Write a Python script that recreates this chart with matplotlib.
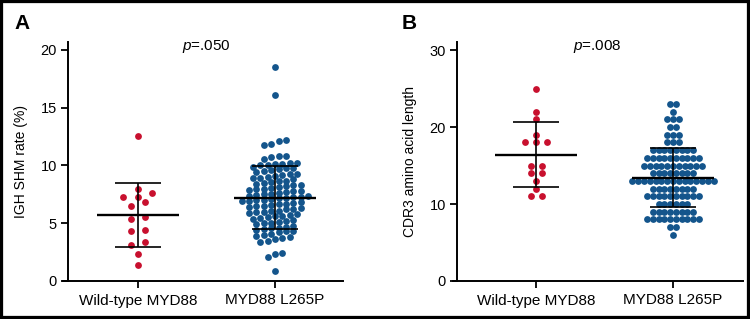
import numpy as np
import matplotlib
matplotlib.use('Agg')
import matplotlib.pyplot as plt
from matplotlib.patches import Rectangle

plt.rcParams['font.family'] = ['Liberation Sans', 'DejaVu Sans']
plt.rcParams['mathtext.fontset'] = 'custom'
plt.rcParams['mathtext.it'] = 'Liberation Sans:italic'
plt.rcParams['mathtext.rm'] = 'Liberation Sans'

groups = ['Wild-type MYD88', 'MYD88 L265P']

# panel A - IGH SHM rate (%)
shm_wt = [12.55, 8.0, 7.6, 7.3, 7.25, 6.8, 6.45, 5.55, 5.35, 4.4, 4.35,
          3.35, 3.1, 2.35, 1.35]
shm_mut = [18.5, 16.1,
           12.2, 12.1, 11.85, 11.8,
           10.8, 10.8, 10.75, 10.6, 10.2, 10.2, 10.15, 10.1, 10.05, 10.0,
           9.9, 9.8, 9.75, 9.7, 9.6, 9.5, 9.4, 9.3, 9.25, 9.2, 9.1, 9.0,
           8.95, 8.9, 8.8, 8.7, 8.65, 8.6, 8.5, 8.4, 8.35, 8.3, 8.2, 8.1, 8.05, 8.0,
           7.95, 7.9, 7.8, 7.75, 7.7, 7.6, 7.55, 7.5, 7.45, 7.4, 7.35, 7.3,
           7.25, 7.2, 7.15, 7.1, 7.05, 7.0,
           6.95, 6.9, 6.8, 6.75, 6.7, 6.65, 6.6, 6.5, 6.45, 6.4, 6.3, 6.25,
           6.2, 6.1, 6.05, 6.0,
           5.95, 5.9, 5.8, 5.7, 5.65, 5.6, 5.5, 5.45, 5.4, 5.3, 5.2, 5.1,
           5.05, 5.0,
           4.9, 4.8, 4.7, 4.6, 4.55, 4.5, 4.4, 4.35, 4.3, 4.2, 4.1, 4.0,
           3.9, 3.8, 3.7, 3.6, 3.5, 3.4,
           2.4, 2.35, 2.1, 0.9]
shm_mean = [5.72, 7.22]
shm_sd = [2.80, 2.75]

# panel B - CDR3 amino acid length
cdr3_wt = [25, 22, 21, 19, 18, 18, 18, 15, 15, 14, 14, 13, 12, 11, 11]
cdr3_len = [6, 7, 8, 9, 10, 11, 12, 13, 14, 15, 16, 17, 18, 19, 20, 21, 22, 23]
cdr3_mut_n = [1, 2, 10, 8, 6, 10, 8, 15, 8, 11, 10, 8, 3, 3, 2, 3, 1, 2]
cdr3_mean = [16.4, 13.43]
cdr3_sd = [4.2, 3.87]

red = '#C8102E'
blue = '#14558C'
PX = 137.0  # pixels per category unit on x


def rows_layout(values, h, step_px):
    # group close values into rows and spread them side by side
    v = np.sort(np.asarray(values, float))
    offs = np.zeros(len(v))
    i = 0
    while i < len(v):
        j = i
        while j < len(v) and v[j] - v[i] < h:
            j += 1
        n = j - i
        offs[i:j] = (np.arange(n) - (n - 1) / 2) * step_px / PX
        i = j
    return v, offs


def draw_panel(ax, data, means, sds, colors, hs, steps, ylim, yticks, ylabel, xlim, spine_off):
    for i, vals in enumerate(data):
        v, o = rows_layout(vals, hs[i], steps[i])
        ax.scatter(i + o, v, s=24, color=colors[i], linewidths=0, zorder=3, clip_on=False)
        m, sd = means[i], sds[i]
        ax.hlines(m, i - 0.30, i + 0.30, color='k', lw=1.7, zorder=4)
        ax.vlines(i, m - sd, m + sd, color='k', lw=1.2, zorder=4)
        ax.hlines([m - sd, m + sd], i - 0.17, i + 0.17, color='k', lw=1.2, zorder=4)
    ax.set_xlim(*xlim)
    ax.set_ylim(*ylim)
    ax.set_yticks(yticks)
    ax.set_xticks([0, 1])
    ax.set_xticklabels(groups, fontsize=11)
    ax.tick_params(axis='y', labelsize=10.5, length=5, width=1.3, pad=3)
    ax.tick_params(axis='x', length=5, width=1.3, pad=4)
    for s in ['top', 'right']:
        ax.spines[s].set_visible(False)
    ax.spines['left'].set_linewidth(1.4)
    ax.spines['bottom'].set_linewidth(1.4)
    ax.spines['left'].set_position(('axes', spine_off))
    ax.set_ylabel(ylabel, fontsize=10, family=['Liberation Sans Narrow', 'Liberation Sans'])
    ax.yaxis.set_label_coords(-0.125, 0.5)


fig = plt.figure(figsize=(7.5, 3.19), dpi=100)
axA = fig.add_axes([63 / 750, 38 / 319, 280 / 750, 239 / 319])
axB = fig.add_axes([453 / 750, 38 / 319, 290 / 750, 239 / 319])

draw_panel(axA, [shm_wt, shm_mut], shm_mean, shm_sd, [red, blue], [0.7, 0.5], [14.5, 7.4],
           (0, 20.69), [0, 5, 10, 15, 20], 'IGH SHM rate (%)',
           (-0.547, 1.497), 5 / 280)

cdr3_mut = np.repeat(cdr3_len, cdr3_mut_n)
draw_panel(axB, [cdr3_wt, cdr3_mut], cdr3_mean, cdr3_sd, [red, blue], [0.5, 0.5], [11, 5.8],
           (0, 31.04), [0, 10, 20, 30], 'CDR3 amino acid length',
           (-0.606, 1.511), 4 / 290)

fig.text(206 / 750, 269 / 319, r'$p$=.050', fontsize=11, ha='center', va='baseline')
fig.text(597 / 750, 269 / 319, r'$p$=.008', fontsize=11, ha='center', va='baseline')
fig.text(14 / 750, 290 / 319, 'A', fontsize=15, fontweight='bold', va='baseline')
fig.text(402 / 750, 290 / 319, 'B', fontsize=15, fontweight='bold', va='baseline')

fig.patches.append(Rectangle((0, 0), 1, 1, transform=fig.transFigure, fill=False,
                             lw=4.5, edgecolor='k'))

fig.savefig('out.png', dpi=100)
